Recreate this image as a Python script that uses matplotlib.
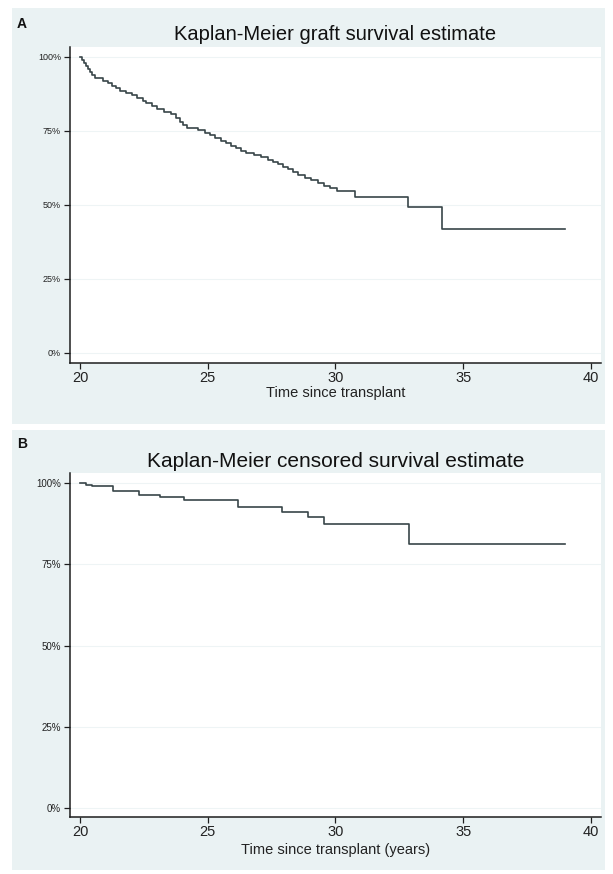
import matplotlib
matplotlib.use('Agg')
import matplotlib.pyplot as plt
from matplotlib.patches import Rectangle

plt.rcParams['font.family'] = ['Liberation Sans', 'DejaVu Sans']

# panel A - graft survival (years since transplant, % surviving)
graft_t = [20.0, 20.08, 20.15, 20.22, 20.3, 20.38, 20.46, 20.6, 20.9, 21.1,
           21.25, 21.4, 21.55, 21.8, 22.05, 22.25, 22.45, 22.6, 22.8, 23.0,
           23.3, 23.55, 23.75, 23.9, 24.05, 24.2, 24.6, 24.9, 25.1, 25.3,
           25.5, 25.7, 25.9, 26.1, 26.3, 26.5, 26.8, 27.1, 27.35, 27.55,
           27.75, 27.95, 28.15, 28.35, 28.55, 28.8, 29.05, 29.3, 29.55, 29.8,
           30.05, 30.75, 32.85, 34.15]
graft_s = [100, 99, 98, 97, 96, 95, 94, 93, 92, 91.2,
           90.3, 89.4, 88.5, 87.7, 87.0, 86.2, 85.3, 84.4, 83.5, 82.4,
           81.5, 80.6, 79.4, 78.2, 77.1, 76.0, 75.3, 74.4, 73.5, 72.6,
           71.7, 70.9, 70.0, 69.2, 68.4, 67.6, 66.8, 66.1, 65.3, 64.6,
           63.8, 62.9, 62.0, 61.1, 60.2, 59.2, 58.3, 57.4, 56.5, 55.6,
           54.6, 52.6, 49.2, 41.9]
graft_end = 39.0

# panel B - censored survival
cens_t = [20.0, 20.25, 20.46, 21.3, 22.3, 23.14, 24.06, 26.2, 27.92, 28.92, 29.55, 32.87]
cens_s = [100, 99.5, 99.0, 97.4, 96.3, 95.6, 94.8, 92.5, 91.0, 89.4, 87.4, 81.3]
cens_end = 39.0

xticks = [20, 25, 30, 35, 40]
yticks = [0, 25, 50, 75, 100]
ylabels = ['0%', '25%', '50%', '75%', '100%']

W, H = 613, 874
bg = '#eaf2f3'
line_col = '#384549'

fig = plt.figure(figsize=(W / 100, H / 100), dpi=100)
fig.patch.set_facecolor('white')


def box(x0, y0, x1, y1):
    # pixel box (top-left origin) -> figure fraction rect
    return [x0 / W, 1 - y1 / H, (x1 - x0) / W, (y1 - y0) / H]


for y0, y1 in [(8, 424), (430, 870)]:
    r = box(12, y0, 605, y1)
    fig.patches.append(Rectangle((r[0], r[1]), r[2], r[3], transform=fig.transFigure,
                                 facecolor=bg, edgecolor='none', zorder=-10))

panels = [
    dict(t=graft_t, s=graft_s, end=graft_end, top=47, bot=363, y100=57, y0=353,
         title='Kaplan-Meier graft survival estimate', ty=35, letter='A', ly=24,
         xlabel='Time since transplant', xly=393, tsize=14.5, ysize=6.5),
    dict(t=cens_t, s=cens_s, end=cens_end, top=473, bot=817, y100=483, y0=808,
         title='Kaplan-Meier censored survival estimate', ty=462, letter='B', ly=444,
         xlabel='Time since transplant (years)', xly=850, tsize=15, ysize=7),
]

for p in panels:
    ax = fig.add_axes(box(70, p['top'], 601, p['bot']))
    ax.set_facecolor('white')
    # map pixel edges to data limits
    ppy = (p['y0'] - p['y100']) / 100.0
    ax.set_ylim((p['y0'] - p['bot']) / ppy, (p['y0'] - p['top']) / ppy)
    ppx = (591 - 80) / 20.0
    ax.set_xlim(20 + (70 - 80) / ppx, 20 + (601 - 80) / ppx)

    ax.step(p['t'] + [p['end']], p['s'] + [p['s'][-1]], where='post',
            color=line_col, lw=1.2, zorder=3)

    for side in ['top', 'right']:
        ax.spines[side].set_visible(False)
    for side in ['left', 'bottom']:
        ax.spines[side].set_color('#1e1e1e')
        ax.spines[side].set_linewidth(1.1)

    ax.set_xticks(xticks)
    ax.set_xticklabels([str(v) for v in xticks], fontsize=10.5, color='#222222')
    ax.set_yticks(yticks)
    ax.set_yticklabels(ylabels, fontsize=p['ysize'], color='#222222')
    ax.tick_params(axis='both', direction='out', length=4, width=0.9, color='#1e1e1e')
    ax.tick_params(axis='x', pad=2)
    ax.tick_params(axis='y', pad=2.5)
    ax.yaxis.grid(True, color='#eef4f5', lw=0.8)
    ax.set_axisbelow(True)

    fig.text(335.5 / W, 1 - p['ty'] / H, p['title'], ha='center', va='center',
             fontsize=p['tsize'], color='#111111')
    fig.text(22 / W, 1 - p['ly'] / H, p['letter'], ha='center', va='center',
             fontsize=10, fontweight='bold', color='#111111')
    fig.text(335.5 / W, 1 - p['xly'] / H, p['xlabel'], ha='center', va='center',
             fontsize=10.5, color='#222222')

fig.savefig('out.png', dpi=100, facecolor=fig.get_facecolor())
